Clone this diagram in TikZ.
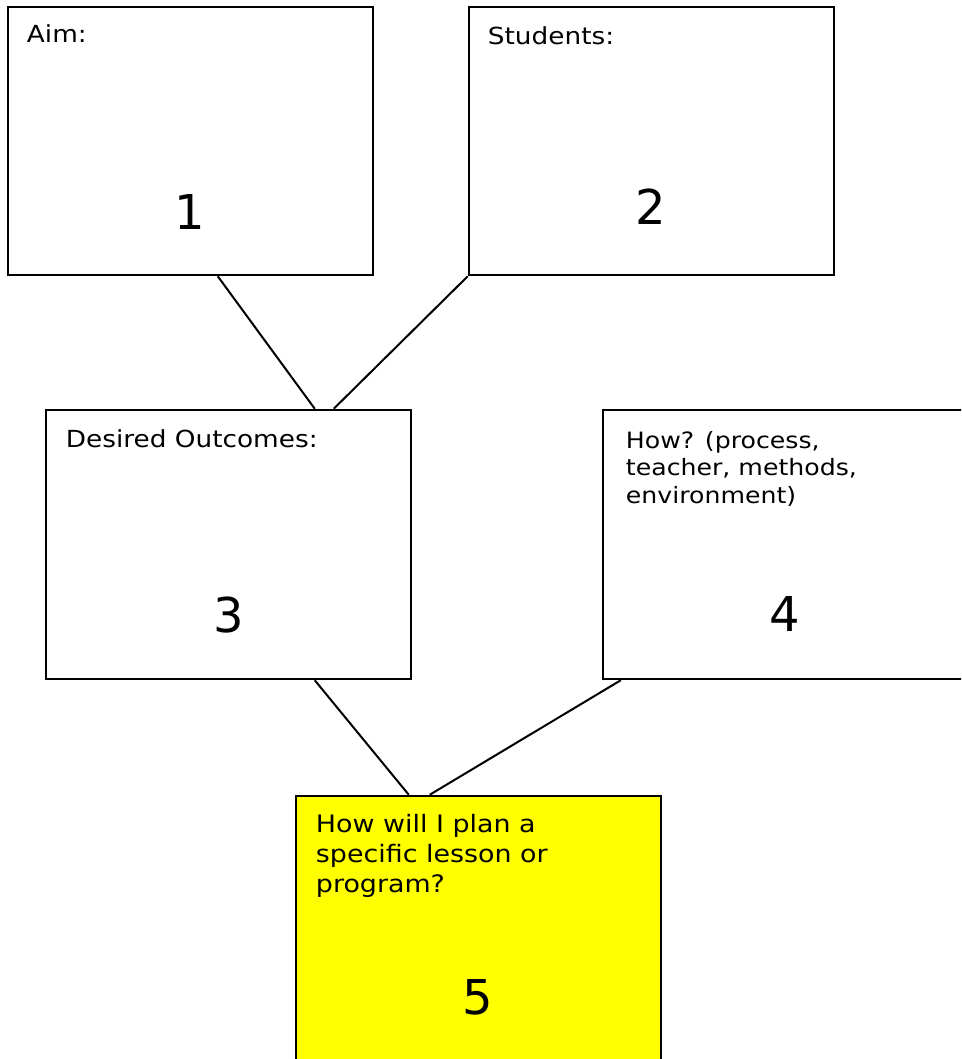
\documentclass[tikz,border=0pt]{standalone}
\usepackage{fontspec}
\setmainfont{DejaVu Sans}[FakeStretch=1.12]
\newfontfamily\numfont{DejaVu Sans}
\definecolor{planyellow}{HTML}{FFFF00}
\tikzset{
  box/.style={draw, line width=2.5pt, rectangle, minimum width=365pt, minimum height=268pt, inner sep=0pt},
  boxtext/.style={anchor=base west, inner sep=0pt, align=left, font=\fontsize{23.5}{29}\selectfont},
  numtext/.style={inner sep=0pt, font=\numfont\fontsize{48}{56}\selectfont},
  link/.style={line width=2pt}
}
\begin{document}
\begin{tikzpicture}[x=1pt, y=-1pt]
        \useasboundingbox (0,0) rectangle (961,1059);
        \clip (0,0) rectangle (961,1059);

        \node[box] (b1) at (190.5,141) {};
        \node[box] (b2) at (651.5,141) {};
        \node[box, minimum height=269pt] (b3) at (228.5,544.5) {};
        \node[box, minimum height=269pt] (b4) at (785.5,544.5) {};
        \node[box, fill=planyellow] (b5) at (478.5,930) {};

        % labels: base of the last line
        \node[boxtext] (t1) at ([shift={(20,37)}]b1.north west) {Aim:};
        \node[boxtext] (t2) at ([shift={(20,39)}]b2.north west) {Students:};
        \node[boxtext] (t3) at ([shift={(21,39)}]b3.north west) {Desired Outcomes:};
        \node[boxtext, font=\fontsize{22.5}{27.8}\selectfont] (t4) at ([shift={(24,95)}]b4.north west)
          {How? (process,\\teacher, methods,\\environment)};
        \node[boxtext, font=\fontsize{24}{30}\selectfont] (t5) at ([shift={(21,98)}]b5.north west)
          {How will I plan a\\specific lesson or\\program?};

        \node[numtext] (n1) at (190,212) {1};
        \node[numtext] (n2) at (651,207) {2};
        \node[numtext] (n3) at (229,615) {3};
        \node[numtext] (n4) at (785,614) {4};
        \node[numtext] (n5) at (478,997) {5};

        \draw[link] ([shift={(211,0)}]b1.south west) -- ([shift={(270,0)}]b3.north west);
        \draw[link] (b2.south west) -- ([shift={(289,0)}]b3.north west);
        \draw[link] ([shift={(270,0)}]b3.south west) -- ([shift={(114,0)}]b5.north west);
        \draw[link] ([shift={(19,0)}]b4.south west) -- ([shift={(135,0)}]b5.north west);
\end{tikzpicture}
\end{document}
